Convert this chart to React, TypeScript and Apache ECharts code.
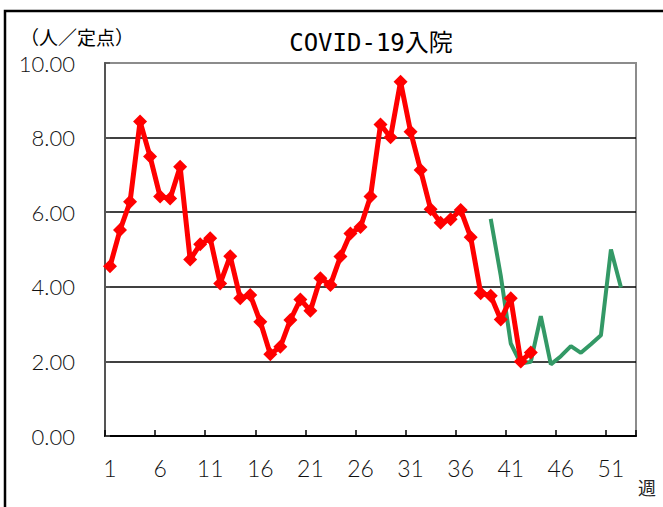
import React, { useEffect, useRef } from "react";
import * as echarts from "echarts";

const weeks: string[] = Array.from({ length: 53 }, (_, i) => String(i + 1));

const redValues: (number | null)[] = [
  4.55, 5.52, 6.28, 8.43, 7.49, 6.42, 6.37, 7.22, 4.73, 5.14,
  5.3, 4.09, 4.82, 3.69, 3.78, 3.06, 2.19, 2.39, 3.11, 3.66,
  3.36, 4.23, 4.05, 4.81, 5.43, 5.6, 6.42, 8.35, 8.01, 9.5,
  8.16, 7.13, 6.08, 5.72, 5.81, 6.06, 5.33, 3.83, 3.76, 3.12,
  3.69, 2.0, 2.24,
];

const greenStartWeek = 39;
const greenValues: number[] = [
  5.82, 4.3, 2.48, 1.94, 1.99, 3.21, 1.92, 2.14, 2.41, 2.23, 2.46, 2.7, 5.0, 3.98,
];

const yTicks = [0, 2, 4, 6, 8, 10];

const titleText = "COVID-19入院";
const unitText = "（人／定点）";
const xUnitText = "週";

export default function App() {
  const ref = useRef<HTMLDivElement>(null);

  useEffect(() => {
    if (!ref.current) return;
    const chart = echarts.init(ref.current, null, { renderer: "svg" });

    const greenData: (number | null)[] = weeks.map((_, i) => {
      const k = i + 1 - greenStartWeek;
      return k >= 0 && k < greenValues.length ? greenValues[k] : null;
    });
    const redData: (number | null)[] = weeks.map((_, i) =>
      i < redValues.length ? redValues[i] : null
    );

    const labelFont = "Lato, 'DejaVu Sans', sans-serif";

    chart.setOption({
      animation: false,
      backgroundColor: "#ffffff",
      grid: {
        left: 105,
        top: 63,
        right: 27,
        bottom: 71,
        show: true,
        borderColor: "#8c8c8c",
        borderWidth: 2,
        containLabel: false,
      },
      xAxis: {
        type: "category",
        data: weeks,
        boundaryGap: true,
        axisLine: { show: true, lineStyle: { color: "#000", width: 2 } },
        axisTick: {
          show: true,
          inside: true,
          length: 6,
          interval: 4,
          lineStyle: { color: "#000", width: 1.5 },
        },
        axisLabel: {
          interval: 4,
          margin: 20,
          fontSize: 23,
          fontWeight: 300,
          fontFamily: labelFont,
          color: "#111",
        },
        splitLine: { show: false },
      },
      yAxis: {
        type: "value",
        min: yTicks[0],
        max: yTicks[yTicks.length - 1],
        interval: 2,
        axisLine: { show: true, lineStyle: { color: "#555", width: 2 } },
        axisTick: {
          show: true,
          inside: true,
          length: 5,
          lineStyle: { color: "#555", width: 1.5 },
        },
        axisLabel: {
          margin: 30,
          fontSize: 22,
          fontWeight: 300,
          fontFamily: labelFont,
          color: "#111",
          formatter: (v: number) => v.toFixed(2),
        },
        splitLine: {
          show: true,
          lineStyle: {
            color: ["#000", "#000", "#000", "#000", "#000", "#8c8c8c"],
            width: 1.6,
          },
        },
      },
      series: [
        {
          name: "green",
          type: "line",
          data: greenData,
          symbol: "none",
          connectNulls: false,
          lineStyle: { color: "#339966", width: 4 },
          itemStyle: { color: "#339966" },
          z: 2,
        },
        {
          name: "red",
          type: "line",
          data: redData,
          symbol: "diamond",
          symbolSize: 14,
          showSymbol: true,
          showAllSymbol: true,
          lineStyle: { color: "#ff0000", width: 5 },
          itemStyle: { color: "#ff0000" },
          z: 3,
        },
      ],
      graphic: [
        {
          type: "rect",
          shape: { x: 5, y: 11, width: 720, height: 620 },
          style: { fill: "none", stroke: "#000", lineWidth: 2.5 },
          silent: true,
        },
        {
          type: "text",
          x: 371,
          y: 43,
          style: {
            text: titleText,
            fontSize: 24,
            fontFamily: "'DejaVu Sans Mono', 'Noto Sans CJK JP', monospace",
            fill: "#000",
            textAlign: "center",
            textVerticalAlign: "middle",
          },
        },
        {
          type: "text",
          x: 20,
          y: 36,
          style: {
            text: unitText,
            fontSize: 19,
            fontFamily: "'Noto Sans CJK JP', sans-serif",
            fill: "#000",
            textAlign: "left",
            textVerticalAlign: "middle",
          },
        },
        {
          type: "text",
          x: 647,
          y: 487,
          style: {
            text: xUnitText,
            fontSize: 18,
            fontFamily: "'Noto Sans CJK JP', sans-serif",
            fill: "#222",
            textAlign: "center",
            textVerticalAlign: "middle",
          },
        },
      ],
    });

    return () => {
      chart.dispose();
    };
  }, []);

  return (
    <div
      ref={ref}
      style={{ position: "fixed", left: 0, top: 0, width: 663, height: 507 }}
    />
  );
}
